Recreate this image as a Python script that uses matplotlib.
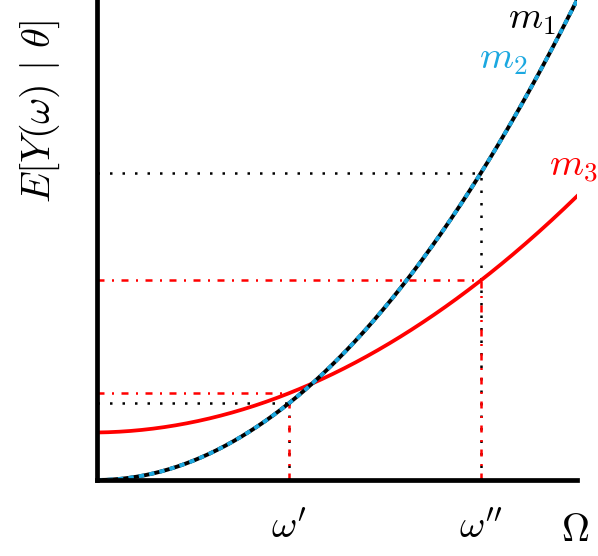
import numpy as np
import matplotlib
matplotlib.use("Agg")
from matplotlib import pyplot as plt

plt.rcParams['mathtext.fontset'] = 'cm'

# values at x = 0, 0.1, ..., 1
x_read = [0.0, 0.1, 0.2, 0.3, 0.4, 0.5, 0.6, 0.7, 0.8, 0.9, 1.0]
m1_read = [0.0, 0.01, 0.04, 0.09, 0.16, 0.25, 0.36, 0.49, 0.64, 0.81, 1.0]
m3_read = [0.10, 0.105, 0.12, 0.145, 0.18, 0.225, 0.28, 0.345, 0.415, 0.50, 0.59]
omegas = [0.4, 0.8]
omega_labels = [r"$\omega'$", r"$\omega''$"]

# smooth curves through the read points
xs = np.linspace(0, 1, 300)
m1 = np.polyval(np.polyfit(x_read, m1_read, 2), xs)
m3 = np.polyval(np.polyfit(x_read, m3_read, 2), xs)
m1_at = np.interp(omegas, xs, m1)
m3_at = np.interp(omegas, xs, m3)

fig = plt.figure(figsize=(5.98, 5.56), dpi=100)
ax = fig.add_axes([97/598, 76/556, 480/598, 480/556])

dots = (0, (1, 4))
dashdot = (0, (2.8, 3, 0.8, 3))
for w, a, b in zip(omegas, m1_at, m3_at):
    ax.plot([0, w], [a, a], color='black', ls=dots, lw=1.8)
    ax.plot([w, w], [0, a], color='black', ls=dots, lw=1.8)
    ax.plot([0, w], [b, b], color='red', ls=dashdot, lw=1.8)
    ax.plot([w, w], [0, b], color='red', ls=dashdot, lw=1.8)

ax.plot(xs, m3, color='red', lw=2.7)
ax.plot(xs, m1, color='black', lw=2.8)
ax.plot(xs, m1, color='#1ba8e0', lw=2.8, ls=(0, (1.4, 1.3)))

ax.set_xlim(0, 1)
ax.set_ylim(0, 1)
ax.spines['top'].set_visible(False)
ax.spines['right'].set_visible(False)
ax.spines['left'].set_linewidth(3.4)
ax.spines['bottom'].set_linewidth(3.4)
ax.set_xticks(omegas)
ax.set_xticklabels(omega_labels, fontsize=28)
ax.tick_params(axis='x', length=0, pad=20)
ax.set_yticks([])

fig.text(575/598, 1 - 530/556, r"$\Omega$", fontsize=28, ha='center', va='center')
ax.text(0.955, 0.962, r"$m_1$", fontsize=28, ha='right', va='center', color='black')
ax.text(0.897, 0.88, r"$m_2$", fontsize=28, ha='right', va='center', color='#1ba8e0')
ax.text(0.942, 0.655, r"$m_3$", fontsize=28, ha='left', va='center', color='red')
fig.text(40/598, 1 - 112/556, r"$E[Y(\omega)\ |\ \theta]$", fontsize=29, rotation=90,
         ha='center', va='center')

fig.savefig("out.png", dpi=100)
